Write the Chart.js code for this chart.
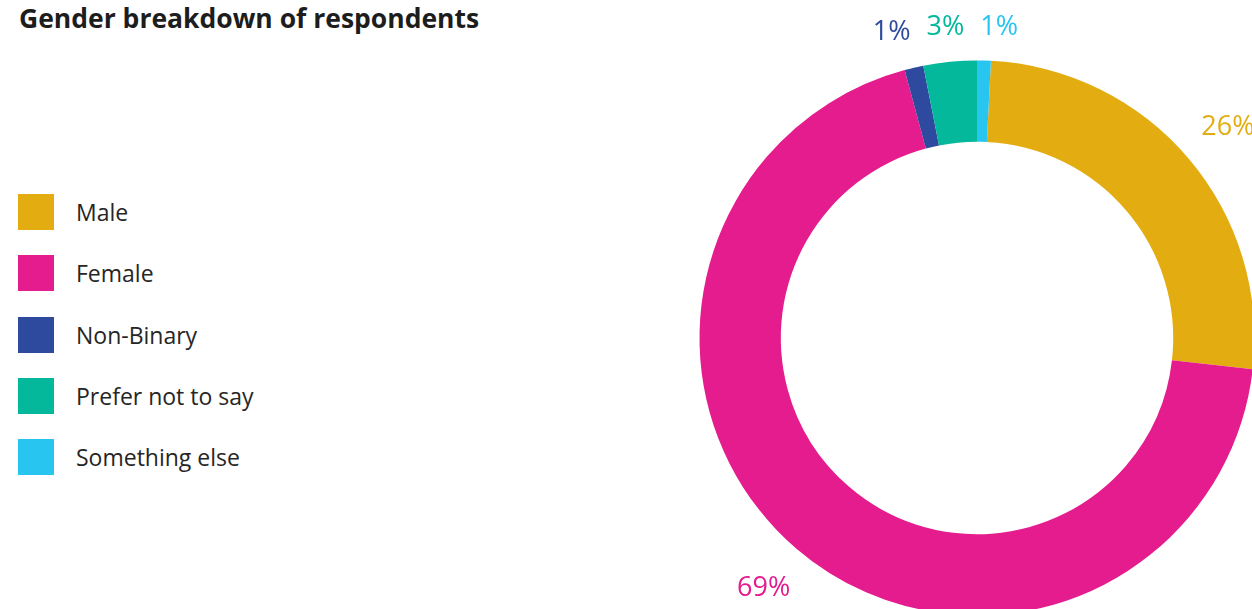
<!DOCTYPE html>
<html>
<head>
<meta charset="utf-8">
<script src="https://cdn.jsdelivr.net/npm/chart.js@4.4.1/dist/chart.umd.min.js"></script>
<style>
  html, body { margin: 0; padding: 0; background: #ffffff; }
  #page { position: relative; width: 1252px; height: 609px; overflow: hidden; background: #ffffff; }
  #chart { position: absolute; left: 0; top: 0; }
  h1 {
    position: absolute; left: 19px; top: 0px; margin: 0; line-height: normal;
    font: bold 26.5px "Open Sans", Lato, sans-serif; color: #1d1d1d; white-space: nowrap;
  }
  .item { position: absolute; left: 18px; height: 36px; display: flex; align-items: center; }
  .swatch { width: 36px; height: 36px; flex: none; }
  .item span {
    margin-left: 22px; font: 23px "Open Sans", Lato, sans-serif; color: #262626; white-space: nowrap;
  }
</style>
</head>
<body>
<div id="page">
  <h1>Gender breakdown of respondents</h1>
  <div id="legend"></div>
  <canvas id="chart" width="1300" height="680"></canvas>
</div>
<script>
// Survey responses by gender, percent of respondents
const categories = ['Male', 'Female', 'Non-Binary', 'Prefer not to say', 'Something else'];
const shares = [26.0, 69.0, 1.1, 3.1, 0.8];
const colors = ['#E3AD12', '#E41C8E', '#2E4A9E', '#03B89B', '#29C5F1'];

// Legend column on the left
const legend = document.getElementById('legend');
categories.forEach((name, i) => {
  const row = document.createElement('div');
  row.className = 'item';
  row.style.top = (194 + i * 61.25) + 'px';
  const sw = document.createElement('div');
  sw.className = 'swatch';
  sw.style.background = colors[i];
  const label = document.createElement('span');
  label.textContent = name;
  row.appendChild(sw);
  row.appendChild(label);
  legend.appendChild(row);
});

const total = shares.reduce((a, b) => a + b, 0);
// Ring starts so that the last slice ends exactly at twelve o'clock
const startRotation = shares[shares.length - 1] / total * 360;

// Percentage labels placed just outside the ring, spread apart where they crowd
const outsideLabels = {
  id: 'outsideLabels',
  afterDatasetsDraw(chart) {
    const ctx = chart.ctx;
    const meta = chart.getDatasetMeta(0);
    const fontSize = 27;
    const capH = fontSize * 0.72;
    const gap = 25;
    const pad = 16;
    ctx.save();
    ctx.font = fontSize + 'px "Open Sans", Lato, sans-serif';
    const items = meta.data.map((arc, i) => {
      const p = arc.getProps(['x', 'y', 'startAngle', 'endAngle', 'outerRadius'], true);
      const mid = (p.startAngle + p.endAngle) / 2;
      const dx = Math.cos(mid), dy = Math.sin(mid);
      const text = Math.round(shares[i] / total * 100) + '%';
      const w = ctx.measureText(text).width;
      const r = p.outerRadius + gap + Math.abs(dx) * w / 2 + Math.abs(dy) * capH / 2;
      return { text, w, x: p.x + dx * r, y: p.y + dy * r, color: colors[i] };
    });
    for (let iter = 0; iter < 60; iter++) {
      const sorted = items.slice().sort((a, b) => a.x - b.x);
      for (let k = 0; k < sorted.length - 1; k++) {
        const a = sorted[k], b = sorted[k + 1];
        if (Math.abs(a.y - b.y) > capH * 1.5) continue;
        const need = (a.w + b.w) / 2 + pad;
        const dist = b.x - a.x;
        if (dist < need) {
          const s = (need - dist) / 2;
          a.x -= s; b.x += s;
        }
      }
    }
    ctx.textAlign = 'center';
    ctx.textBaseline = 'alphabetic';
    items.forEach(it => {
      ctx.fillStyle = it.color;
      ctx.fillText(it.text, it.x, it.y + capH / 2);
    });
    ctx.restore();
  }
};

new Chart(document.getElementById('chart'), {
  type: 'doughnut',
  data: {
    labels: categories,
    datasets: [{
      data: shares,
      backgroundColor: colors,
      borderWidth: 0,
      hoverOffset: 0
    }]
  },
  options: {
    responsive: false,
    animation: false,
    cutout: '70.7%',
    rotation: startRotation,
    layout: { padding: { left: 699.5, top: 60.5, right: 45.5, bottom: 64.5 } },
    plugins: {
      legend: { display: false },
      title: { display: false },
      tooltip: { enabled: false }
    }
  },
  plugins: [outsideLabels]
});
</script>
</body>
</html>
